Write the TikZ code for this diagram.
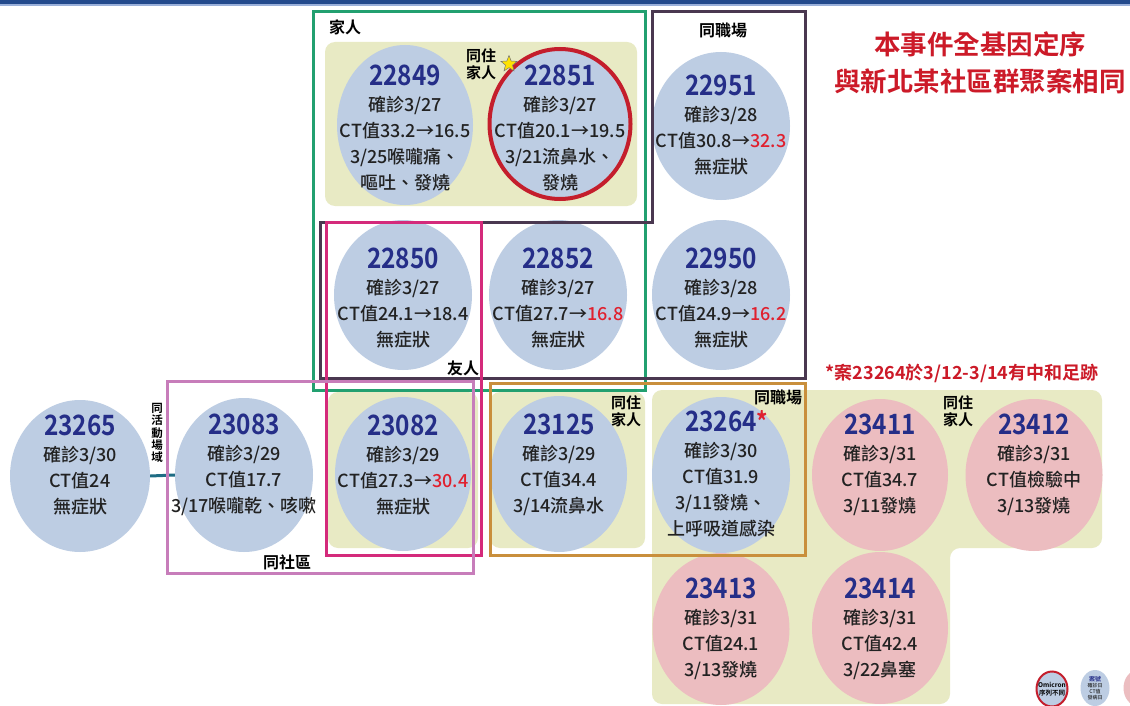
\documentclass[tikz,border=0pt]{standalone}
\usepackage{fontspec}
\setmainfont{Noto Sans CJK TC}[UprightFont={* Medium}, BoldFont={* Bold}]
\newfontfamily\numfam{Noto Sans CJK TC}[UprightFont={* Bold}, FakeStretch=0.87]
\usetikzlibrary{shapes.geometric}
\definecolor{topband}{HTML}{234A8C}
\definecolor{topband2}{HTML}{9AB0DA}
\definecolor{bgy}{HTML}{E8EAC4}
\definecolor{cblue}{HTML}{BDCDE3}
\definecolor{cpink}{HTML}{ECBDC0}
\definecolor{numblue}{HTML}{252E88}
\definecolor{txt}{HTML}{222222}
\definecolor{hired}{HTML}{E0202E}
\definecolor{omired}{HTML}{C41E2C}
\definecolor{grnline}{HTML}{22A070}
\definecolor{darkline}{HTML}{4A3850}
\definecolor{magline}{HTML}{D42A7B}
\definecolor{purline}{HTML}{C77DBA}
\definecolor{orgline}{HTML}{C98F3C}
\definecolor{tealline}{HTML}{1E6C84}
\definecolor{titlered}{HTML}{CC1A28}
\newcommand\rd[1]{\textcolor{hired}{#1}}
\newcommand\numf{\fontsize{28}{26}\selectfont\numfam\color{numblue}}
\newcommand\casenode[6]{%
  \node[caseell,#3] (c#1) at (#2) {};
  \node[casetxt] (t#1) at (#4) {{\numf #5}\\#6};
}
\begin{document}
\begin{tikzpicture}[x=1pt,y=-1pt,
  caseell/.style={ellipse, draw=none, inner sep=0pt, minimum width=138pt, minimum height=154pt},
  blue/.style={fill=cblue},
  pink/.style={fill=cpink},
  casetxt/.style={align=center, inner sep=0pt, text=txt, font=\fontsize{18}{26}\selectfont},
  grp/.style={line width=3pt},
  lab/.style={inner sep=0pt, text=black, font=\fontsize{16}{17.5}\selectfont\bfseries, align=center},
  yb/.style={fill=bgy, rounded corners=10pt}
]
\useasboundingbox (0,0) rectangle (1130,706);
\clip (0,0) rectangle (1130,706);
\fill[white] (0,0) rectangle (1130,706);
\fill[topband] (0,0) rectangle (1130,4.5);
\fill[topband2] (0,4.5) rectangle (1130,6.5);

% yellow backgrounds
\fill[yb] (325,42) rectangle (637,206);
\fill[yb] (328,392) rectangle (478,548);
\fill[yb] (490,392) rectangle (645,548);
\fill[yb] (652,390) -- (1102,390) -- (1102,548) -- (950,548) -- (950,704) -- (652,704) -- cycle;

% cases
\casenode{22849}{405,125}{blue,minimum width=136pt,minimum height=160pt}{405,128}{22849}{確診3/27\\CT值33.2→16.5\\3/25喉嚨痛、\\嘔吐、發燒}
\casenode{22851}{560,124}{blue,minimum width=141pt,minimum height=150pt,draw=omired,line width=4pt}{560,128}{22851}{確診3/27\\CT值20.1→19.5\\3/21流鼻水、\\發燒}
\casenode{22951}{721,126}{blue,minimum height=148pt}{721,125}{22951}{確診3/28\\CT值30.8→\rd{32.3}\\無症狀}
\casenode{22850}{403,295}{blue,minimum height=150pt}{403,298}{22850}{確診3/27\\CT值24.1→18.4\\無症狀}
\casenode{22852}{558,295}{blue,minimum height=150pt}{558,298}{22852}{確診3/27\\CT值27.7→\rd{16.8}\\無症狀}
\casenode{22950}{721,295}{blue,minimum height=150pt}{721,298}{22950}{確診3/28\\CT值24.9→\rd{16.2}\\無症狀}
\casenode{23265}{80,476}{blue,minimum width=140pt,minimum height=152pt}{80,465}{23265}{確診3/30\\CT值24\\無症狀}
\casenode{23083}{244,475}{blue}{244,465}{23083}{確診3/29\\CT值17.7\\3/17喉嚨乾、咳嗽}
\casenode{23082}{403,474}{blue,minimum width=136pt}{403,465}{23082}{確診3/29\\CT值27.3→\rd{30.4}\\無症狀}
\casenode{23125}{559,474}{blue,minimum width=136pt,minimum height=156pt}{559,465}{23125}{確診3/29\\CT值34.4\\3/14流鼻水}
\casenode{23264}{721,475}{blue,minimum height=156pt}{721,474}{23264\rlap{\raisebox{0pt}{\fontsize{26}{26}\selectfont\textcolor{hired}{*}}}}{確診3/30\\CT值31.9\\3/11發燒、\\上呼吸道感染}
\casenode{23411}{880,475}{pink,minimum width=136pt,minimum height=152pt}{880,465}{23411}{確診3/31\\CT值34.7\\3/11發燒}
\casenode{23412}{1034,475}{pink,minimum width=137pt,minimum height=152pt}{1034,465}{23412}{確診3/31\\CT值檢驗中\\3/13發燒}
\casenode{23413}{721,629}{pink,minimum width=137pt,minimum height=152pt}{721,629}{23413}{確診3/31\\CT值24.1\\3/13發燒}
\casenode{23414}{880,628}{pink,minimum width=136pt,minimum height=152pt}{880,629}{23414}{確診3/31\\CT值42.4\\3/22鼻塞}

% connector
\draw[tealline, line width=3pt] (c23265.east) -- (c23083.west);

% group frames
\draw[grp, grnline] (313,12) rectangle (645,390);
\draw[grp, darkline] (652,12) -- (805,12) -- (805,378) -- (320,378) -- (320,222) -- (652,222) -- cycle;
\draw[grp, magline] (326,222) rectangle (481,555);
\draw[grp, purline] (167,381) rectangle (473,573);
\draw[grp, orgline] (490,383) rectangle (805,555);

% labels
\node[lab] (l1) at (345,27) {家人};
\node[lab, font=\fontsize{15}{17}\selectfont\bfseries] (l2) at (481,64) {同住\\家人};
\node[star, star points=5, star point ratio=2.3, fill=yellow!85!orange, draw=black!55, line width=0.5pt, minimum size=17pt, inner sep=0pt] (star1) at (509,64) {};
\node[lab] (l3) at (723,30) {同職場};
\node[lab] (l4) at (463,368) {友人};
\node[lab, font=\fontsize{11.5}{12.2}\selectfont\bfseries] (l5) at (157,433) {同\\活\\動\\場\\域};
\node[lab] (l6) at (287,562) {同社區};
\node[lab, font=\fontsize{15}{17}\selectfont\bfseries] (l7) at (626,411) {同住\\家人};
\node[lab] (l8) at (778,397) {同職場};
\node[lab, font=\fontsize{15}{17}\selectfont\bfseries] (l9) at (958,411) {同住\\家人};
\node[lab, text=titlered, font=\fontsize{18}{20}\selectfont\bfseries] (note) at (962,373) {*案23264於3/12-3/14有中和足跡};
\node[lab, text=titlered, font=\fontsize{26.5}{37}\selectfont\bfseries] (title) at (980,63) {本事件全基因定序\\與新北某社區群聚案相同};

% legend
\node[ellipse, fill=cblue, draw=omired, line width=2pt, minimum width=31pt, minimum height=35pt, inner sep=0pt] (lg1) at (1052,689) {};
\node[align=center, inner sep=0pt, font=\fontsize{6.5}{7.5}\selectfont\bfseries] (lg1t) at (lg1.center) {Omicron\\序列不同};
\node[ellipse, fill=cblue, minimum width=29pt, minimum height=36pt, inner sep=0pt] (lg2) at (1095,688) {};
\node[align=center, inner sep=0pt, font=\fontsize{5}{6}\selectfont, text=txt] (lg2t) at (lg2.center) {{\bfseries\color{numblue}\fontsize{6}{6}\selectfont 案號}\\確診日\\CT值\\發病日};
\node[ellipse, fill=cpink, minimum width=29pt, minimum height=36pt, inner sep=0pt] (lg3) at (1138,688) {};
\end{tikzpicture}
\end{document}
